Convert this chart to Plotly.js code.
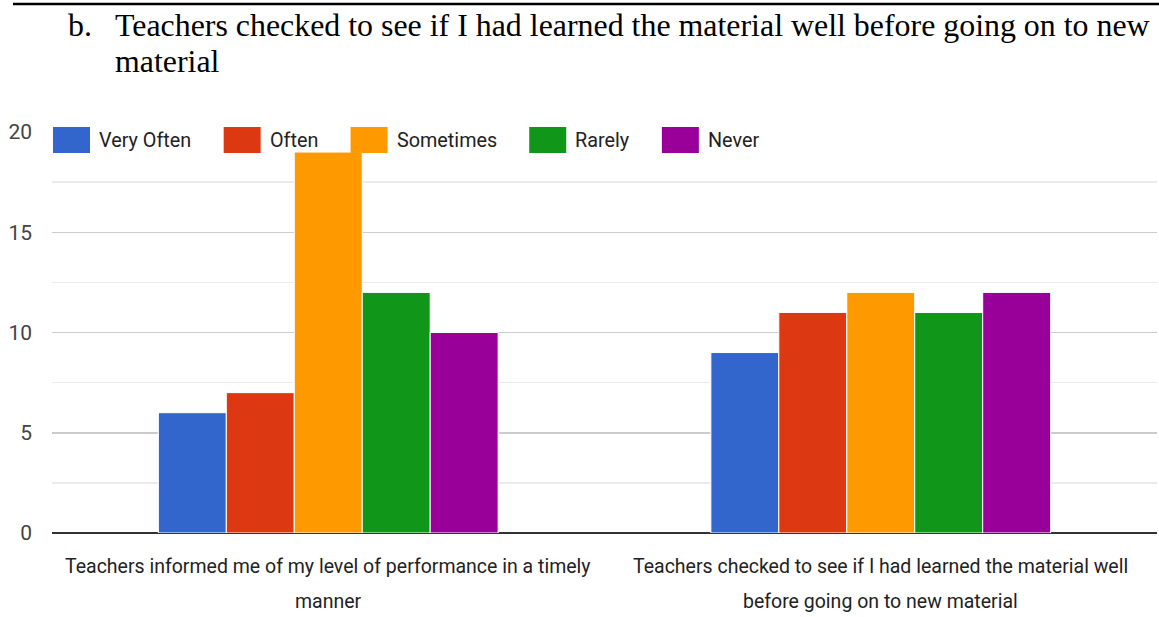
<!DOCTYPE html>
<html><head><meta charset="utf-8">
<script src="https://cdn.plot.ly/plotly-3.0.1.min.js"></script>
<style>html,body{margin:0;padding:0;background:#fff;overflow:hidden;} #chart{width:1159px;height:617px;}</style>
</head><body><div id="chart"></div>
<script>
// ---- data ----
const categories = [
  "Teachers informed me of my level of performance in a timely<br>manner",
  "Teachers checked to see if I had learned the material well<br>before going on to new material"
];
const seriesNames = ["Very Often", "Often", "Sometimes", "Rarely", "Never"];
const veryOften = [6, 9];
const often = [7, 11];
const sometimes = [19, 12];
const rarely = [12, 11];
const never = [10, 12];
const yTickVals = [0, 5, 10, 15, 20];
const titleMarker = "b.";
const titleLine1 = "Teachers checked to see if I had learned the material well before going on to new";
const titleLine2 = "material";

// ---- style ----
const colors = ["#3366cc", "#dc3912", "#ff9900", "#109618", "#990099"];
const W = 1159, H = 617;
const M = {l: 52, r: 2, t: 132, b: 84};
const pw = W - M.l - M.r, ph = H - M.t - M.b;
const px2x = p => (p - M.l) / pw;
const py2y = p => (H - M.b - p) / ph;
const sansFont = "Roboto, 'Liberation Sans', sans-serif";

const seriesValues = [veryOften, often, sometimes, rarely, never];
const traces = seriesNames.map((name, i) => ({
  type: "bar", name: name, x: categories, y: seriesValues[i],
  marker: {color: colors[i], line: {color: "#ffffff", width: 1}},
  hoverinfo: "x+y+name", showlegend: false
}));

// custom legend (large swatches as in the reference)
const legendSize = 19.8;
const ctx = document.createElement("canvas").getContext("2d");
ctx.font = legendSize + "px Roboto";
const shapes = [];
const annotations = [];
let lx = 53;
seriesNames.forEach((name, i) => {
  shapes.push({type: "rect", xref: "paper", yref: "paper",
    x0: px2x(lx), x1: px2x(lx + 37), y0: py2y(153), y1: py2y(127),
    fillcolor: colors[i], line: {width: 0}, layer: "above"});
  const tx = lx + 45;
  annotations.push({xref: "paper", yref: "paper", x: px2x(tx), y: py2y(140),
    xanchor: "left", yanchor: "middle", showarrow: false, text: name,
    font: {family: sansFont, size: legendSize, color: "#222"}, borderpad: 0});
  lx = tx + ctx.measureText(name).width + 33.5;
});

// category labels (two lines each, wide line spacing as in the reference)
categories.forEach(cat => {
  const lines = cat.split("<br>");
  lines.forEach((ln, j) => {
    annotations.push({xref: "x", yref: "paper", x: cat, y: py2y(566 + 35 * j),
      xanchor: "center", yanchor: "middle", showarrow: false, text: ln,
      font: {family: sansFont, size: 19.5, color: "#222"}, borderpad: 0});
  });
});

// top rule line
shapes.push({type: "line", xref: "paper", yref: "paper",
  x0: px2x(13), x1: px2x(1160), y0: py2y(4), y1: py2y(4),
  line: {color: "#000", width: 2.5}});

// title text (serif, hanging indent)
const serif = "'Liberation Serif', 'Times New Roman', serif";
const titleSize = 31.9;
annotations.push({xref: "paper", yref: "paper", x: px2x(67), y: py2y(25),
  xanchor: "left", yanchor: "middle", showarrow: false, text: titleMarker,
  font: {family: serif, size: titleSize, color: "#000"}, borderpad: 0});
annotations.push({xref: "paper", yref: "paper", x: px2x(114), y: py2y(25),
  xanchor: "left", yanchor: "middle", showarrow: false, text: titleLine1,
  font: {family: serif, size: titleSize, color: "#000"}, borderpad: 0});
annotations.push({xref: "paper", yref: "paper", x: px2x(114), y: py2y(61),
  xanchor: "left", yanchor: "middle", showarrow: false, text: titleLine2,
  font: {family: serif, size: titleSize, color: "#000"}, borderpad: 0});

const layout = {
  width: W, height: H,
  margin: M,
  paper_bgcolor: "#fff", plot_bgcolor: "#fff",
  barmode: "group", bargap: 0.385, bargroupgap: 0,
  showlegend: false,
  xaxis: {type: "category", showgrid: false, zeroline: false,
    showline: false, ticks: "", showticklabels: false, fixedrange: true},
  yaxis: {range: [0, 20], tickvals: yTickVals, ticktext: yTickVals.map(String),
    showgrid: true, gridcolor: "#cccccc", gridwidth: 1.5,
    minor: {dtick: 2.5, showgrid: true, gridcolor: "#ebebeb", gridwidth: 1.5},
    zeroline: true, zerolinecolor: "#333333", zerolinewidth: 2,
    ticks: "", ticklabelstandoff: 19,
    tickfont: {family: sansFont, size: 21, color: "#444"}, fixedrange: true},
  shapes: shapes,
  annotations: annotations
};
Plotly.newPlot("chart", traces, layout, {displayModeBar: false, staticPlot: true});
</script>
</body></html>
